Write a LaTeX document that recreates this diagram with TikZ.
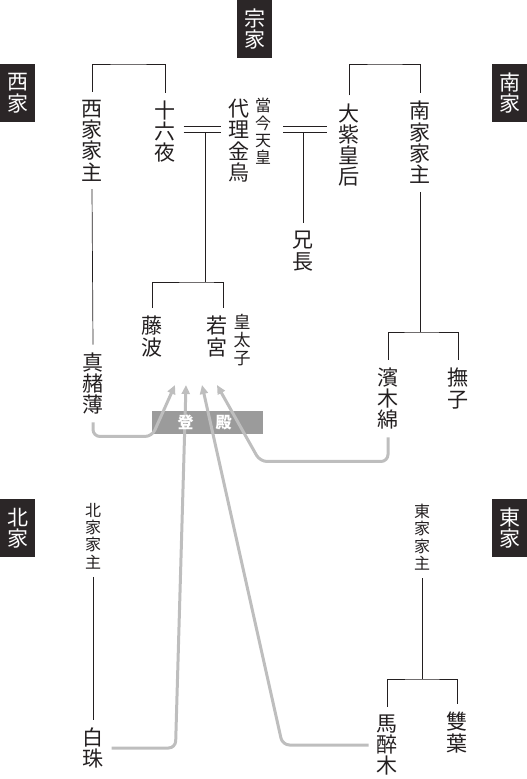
\documentclass[tikz,border=0pt]{standalone}
\usepackage{fontspec}
\newfontfamily\jp{Noto Sans CJK JP}
\usetikzlibrary{positioning, arrows.meta, calc}

\definecolor{ink}{HTML}{231F20}
\definecolor{house}{HTML}{2B2627}
\definecolor{denbox}{HTML}{9B9B9B}
\definecolor{route}{HTML}{BEBEBE}

\tikzset{
  ie/.style={fill=house, text=white, minimum width=35pt, minimum height=58pt,
    inner sep=0pt, align=center,
    font={\jp\fontsize{21}{21.5}\selectfont\lineskiplimit=-20pt}},
  mei/.style={text=ink, align=center, inner sep=0pt, outer sep=8pt,
    font={\jp\fontsize{21}{21.3}\selectfont\lineskiplimit=-20pt}},
  meis/.style={mei, font={\jp\fontsize{16}{17.3}\selectfont\lineskiplimit=-20pt}},
  kei/.style={ink, line width=0.7pt},
  tohden/.style={route, line width=3pt, rounded corners=7pt,
    -{Triangle[length=9pt,width=8pt]}},
}

\begin{document}
\begin{tikzpicture}[x=1pt, y=-1pt]
\useasboundingbox (0,0) rectangle (527,779);

% Houses
\foreach \nm/\px/\py/\ttl in {soke/254.5/29/宗, sai/17.5/93/西, nan/509.5/93/南,
                               hoku/17.5/528/北, tou/509.5/528/東}
  \node[ie] (\nm) at (\px,\py) {\ttl\\家};

% Names
\node[mei]  (saike)    at (92,140.5)  {西\\家\\家\\主};
\node[mei]  (izayoi)   at (165,131.5) {十\\六\\夜};
\node[mei]  (kinu)     at (239,140.5) {代\\理\\金\\烏};
\node[meis] (kinjo)    at (263,131.5) {當\\今\\天\\皇};
\node[mei]  (ani)      at (303,251)   {兄\\長};
\node[mei]  (murasaki) at (349,145)   {大\\紫\\皇\\后};
\node[mei]  (nanke)    at (420,142.5) {南\\家\\家\\主};
\node[mei]  (fujinami) at (152,336.5) {藤\\波};
\node[mei]  (wakamiya) at (217,336.5) {若\\宮};
\node[meis, font={\jp\fontsize{17}{18}\selectfont\lineskiplimit=-20pt}]
            (taishi)   at (242,340)   {皇\\太\\子};
\node[mei]  (masuho)   at (93,383.5)  {真\\赭\\薄};
\node[mei]  (hamayu)   at (388,398.5) {濱\\木\\綿};
\node[mei]  (nadeshiko) at (458,388.5) {撫\\子};
\node[meis] (hokuke)   at (93,536)    {北\\家\\家\\主};
\node[mei]  (shirotama) at (93,748)   {白\\珠};
\node[meis] (touke)    at (422,537)   {東\\家\\家\\主};
\node[mei]  (asebi)    at (387,745)   {馬\\醉\\木};
\node[mei]  (futaba)   at (457,732.5) {雙\\葉};

% Junctions
\coordinate (saijo) at (128,64);
\coordinate (nanjo) at (385,64);
\coordinate (en1)   at (0,126);
\coordinate (en2)   at (0,132);
\coordinate (kou)   at (205,132);
\coordinate (kouj)  at (205,282);
\coordinate (anij)  at (303,132);
\coordinate (hamaj) at (420,332);
\coordinate (touj)  at (422,679);

% Family lines
\draw[kei] (saike.north) |- (saijo) -| (izayoi.north);
\draw[kei] (murasaki.north) |- (nanjo) -| (nanke.north);
\draw[kei] (saike.south) -- (masuho.north);
\foreach \e in {en1, en2} {
  \draw[kei] (izayoi.east |- \e) -- (kinu.west |- \e);
  \draw[kei] ([xshift=4pt]kinjo.east |- \e) -- ([xshift=-4pt]murasaki.west |- \e);
}
\draw[kei] (kou) -- (kouj);
\draw[kei] (fujinami.north) |- (kouj) -| ([xshift=6pt]wakamiya.north);
\draw[kei] (anij) -- (ani.north);
\draw[kei] (nanke.south) -- (hamaj);
\draw[kei] (hamayu.north) |- (hamaj) -| (nadeshiko.north);
\draw[kei] (hokuke.south) -- (shirotama.north);
\draw[kei] (touke.south) -- (touj);
\draw[kei] (asebi.north) |- (touj) -| (futaba.north);

% Toden
\node[fill=denbox, minimum width=111pt, minimum height=23pt, inner sep=0pt]
  (toden) at (207.5,422.5) {};

\coordinate (ya1) at (175,385);
\coordinate (ya2) at (186,385);
\coordinate (ya3) at (202,385);
\coordinate (ya4) at (217,385);

\draw[tohden] (masuho.south) -- ++(0,14) -- ++(59,0) -- (ya1);
\draw[tohden] (shirotama.east) -- ++(64,0) -- (ya2);
\draw[tohden] (asebi.west) -- ++(-86,0) -- (ya3);
\draw[tohden] (hamayu.south) -- ++(0,24) -- ++(-128,0) -- (ya4);

\node[text=white, font={\jp\bfseries\fontsize{16}{16}\selectfont}]
  (todenmoji) at ([xshift=-3pt]toden) {登\hspace{22pt}殿};

\end{tikzpicture}
\end{document}
